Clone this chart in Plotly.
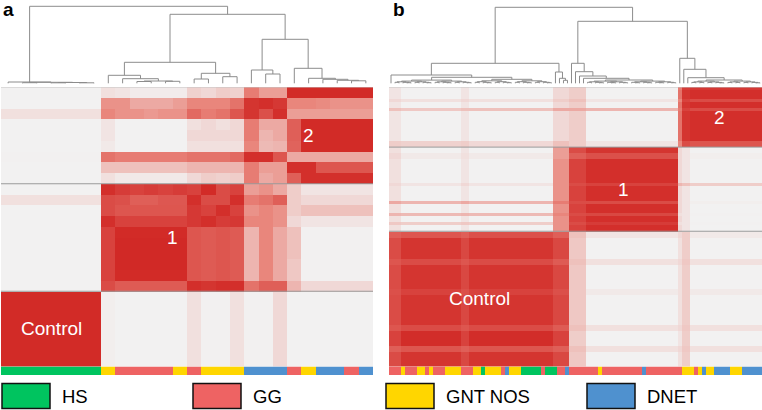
import numpy as np
import plotly.graph_objects as go

W, H = 762, 410
FONT = "Liberation Sans, Arial, Helvetica, sans-serif"

# ---------------- shared ----------------
categories = ["HS", "GG", "GNT NOS", "DNET"]
category_colors = ["#00C45F", "#EE6363", "#FFD600", "#4F91CF"]
heat_colorscale = [[0.0, "#F2F2F2"], [0.05, "#F2F0F0"], [0.5, "#E9867C"], [1.0, "#D02522"]]
line_grey = "#8c8c8c"

# ---------------- panel a data ----------------
a_col_groups = ["Control", "1", "2"]
a_col_group_sizes = [7, 10, 9]
a_row_groups = ["2", "1", "Control"]          # top to bottom
a_row_group_sizes = [9, 10, 7]
a_ann_codes = [0, 2, 1, 2, 1, 2, 3, 1, 2, 3, 1, 3]
a_ann_runs = [7, 1, 4, 1, 1, 3, 3, 1, 1, 2, 1, 1]

a_matrix = [
    [.03]*7 + [.12, .10, .07, .07, .07, .07] + [.18, .15, .20, .18] + [.55, .40, .40] + [.97]*6,
    [.03]*7 + [.45, .45, .35, .35, .35, .40] + [.50, .50, .50, .60] + [.92, .95, .90] + [.50, .50, .48, .45, .45, .45],
    [.12]*7 + [.50, .45, .45, .42, .45, .45] + [.65, .55, .60, .75] + [.92, .78, .95] + [.40]*6,
    [.02]*7 + [.10, .03, .03, .03, .03, .03] + [.12, .15, .12, .15] + [.55, .35, .35] + [.70] + [.97]*5,
    [.02]*7 + [.10, .03, .03, .03, .03, .03] + [.15, .15, .15, .15] + [.55, .30, .35] + [.70] + [.97]*5,
    [.02]*7 + [.08, .03, .03, .03, .03, .03] + [.12, .12, .12, .12] + [.50, .28, .30] + [.68] + [.97]*5,
    [.04]*7 + [.60, .55, .55, .55, .55, .55] + [.60, .60, .60, .65] + [.95, .95, .75] + [.35]*6,
    [.03]*7 + [.25, .25, .25, .25, .25, .25] + [.30, .30, .30, .30] + [.55, .40, .40] + [.95, .95, .75, .75, .75, .75],
    [.02]*7 + [.12, .08, .08, .08, .08, .08] + [.15, .20, .18, .20] + [.55, .35, .40] + [.70] + [.95]*5,
    [.03]*7 + [.95, .88, .85, .88, .85, .88] + [.85, .97, .80, .85] + [.40, .45, .35] + [.20] + [.10]*5,
    [.12]*7 + [.80, .78, .70, .70, .74, .74] + [.95, .80, .80, .95] + [.55, .60, .70] + [.20] + [.15]*5,
    [.03]*7 + [.80, .75, .75, .75, .75, .75] + [.90, .85, .95, .85] + [.45, .50, .45] + [.20] + [.25]*5,
    [.03]*7 + [.95, .85, .85, .85, .85, .85] + [.90, .95, .88, .90] + [.50, .50, .45] + [.15] + [.10]*5,
    [.03]*7 + [.85, .97, .97, .97, .97, .97] + [.75, .72, .75, .72] + [.30, .50, .35] + [.25] + [.04]*5,
    [.03]*7 + [.85, .98, .98, .98, .98, .98] + [.75, .72, .75, .72] + [.30, .50, .35] + [.25] + [.04]*5,
    [.03]*7 + [.85, .98, .98, .98, .98, .98] + [.75, .72, .75, .72] + [.30, .50, .35] + [.25] + [.04]*5,
    [.03]*7 + [.85, .98, .98, .98, .98, .98] + [.75, .72, .75, .72] + [.30, .50, .35] + [.22] + [.04]*5,
    [.03]*7 + [.85, .97, .97, .97, .97, .97] + [.75, .72, .75, .72] + [.30, .50, .35] + [.22] + [.04]*5,
    [.03]*7 + [.80, .72, .72, .72, .72, .72] + [.95, .92, .95, .95] + [.60, .70, .70] + [.30] + [.15]*5,
    [.97]*7 + [.06, .03, .03, .03, .03, .03] + [.12, .04, .04, .12] + [.04, .04, .15] + [.03] + [.03]*5,
    [.97]*7 + [.06, .03, .03, .03, .03, .03] + [.12, .04, .04, .12] + [.04, .04, .15] + [.03] + [.03]*5,
    [.97]*7 + [.06, .03, .03, .03, .03, .03] + [.12, .04, .04, .12] + [.04, .04, .15] + [.03] + [.03]*5,
    [.97]*7 + [.06, .03, .03, .03, .03, .03] + [.12, .04, .04, .12] + [.04, .04, .15] + [.03] + [.03]*5,
    [.97]*7 + [.06, .03, .03, .03, .03, .03] + [.12, .04, .04, .12] + [.04, .04, .15] + [.03] + [.03]*5,
    [.97]*7 + [.06, .03, .03, .03, .03, .03] + [.12, .04, .04, .12] + [.04, .04, .15] + [.03] + [.03]*5,
    [.97]*7 + [.06, .03, .03, .03, .03, .03] + [.12, .04, .04, .12] + [.04, .04, .15] + [.03] + [.03]*5,
]

# dendrogram a: [height, left, right]; leaves are column indices
a_tree = [77,
          [1.3, 0, [1.0, [0.6, 1, 2], [0.8, [0.5, 3, 4], [0.5, 5, 6]]]],
          [69,
           [21, [8, 7, [4.6, 8, [2.3, [1.8, 9, 10], [2.0, 11, 12]]]],
                [10, [4.3, 13, 14], [6.6, 15, 16]]],
           [44, [13.3, 17, [9.3, 18, 19]],
                [15, 20, [5, 21, [4, 22, [3, 23, [2.5, 24, 25]]]]]]]]

# ---------------- panel b data ----------------
b_col_groups = ["Control", "1", "2"]
b_col_group_sizes = [45, 27, 21]
b_row_groups = ["2", "1", "Control"]
b_row_group_sizes = [20, 28, 45]
b_ann_codes = [1, 2, 1, 2, 1, 2, 1, 2, 1, 2, 0, 2, 1, 3, 2, 0, 1, 0, 1, 3,
               1, 2, 1, 3, 1, 2, 1, 2, 3, 2, 3, 2, 3]
b_ann_runs = [3, 1, 3, 2, 1, 1, 3, 4, 3, 2, 1, 4, 1, 1, 3, 5, 1, 3, 2, 1,
              7, 1, 10, 1, 9, 3, 1, 1, 1, 2, 4, 3, 5]

b_col_seg_sizes = [3, 15, 2, 21, 4, 4, 23, 1, 2, 18]
b_row_seg_sizes = [1, 3, 1, 2, 1, 10, 2,
                   2, 2, 8, 1, 5, 1, 3, 1, 2, 1, 2,
                   2, 7, 2, 8, 2, 10, 2, 5, 2, 5]
b_seg_values = [
    [0.10, 0.04, 0.10, 0.04, 0.15, 0.20, 0.04, 0.55, 0.88, 0.90],
    [0.10, 0.03, 0.10, 0.03, 0.15, 0.20, 0.03, 0.60, 0.92, 0.95],
    [0.15, 0.12, 0.15, 0.12, 0.20, 0.25, 0.10, 0.50, 0.85, 0.80],
    [0.10, 0.03, 0.10, 0.03, 0.15, 0.20, 0.03, 0.60, 0.92, 0.95],
    [0.25, 0.22, 0.25, 0.25, 0.35, 0.35, 0.30, 0.55, 0.85, 0.80],
    [0.10, 0.03, 0.10, 0.03, 0.15, 0.20, 0.03, 0.60, 0.92, 0.95],
    [0.20, 0.18, 0.20, 0.15, 0.25, 0.20, 0.10, 0.50, 0.80, 0.75],
    [0.12, 0.03, 0.10, 0.03, 0.40, 0.80, 0.92, 0.15, 0.10, 0.03],
    [0.15, 0.08, 0.12, 0.08, 0.40, 0.70, 0.78, 0.15, 0.10, 0.06],
    [0.12, 0.03, 0.10, 0.03, 0.45, 0.85, 0.95, 0.15, 0.10, 0.03],
    [0.15, 0.10, 0.15, 0.10, 0.45, 0.80, 0.85, 0.30, 0.25, 0.20],
    [0.12, 0.03, 0.10, 0.03, 0.45, 0.85, 0.95, 0.15, 0.10, 0.03],
    [0.35, 0.30, 0.35, 0.30, 0.55, 0.80, 0.80, 0.15, 0.10, 0.06],
    [0.12, 0.03, 0.10, 0.03, 0.45, 0.85, 0.95, 0.15, 0.10, 0.03],
    [0.30, 0.28, 0.30, 0.28, 0.50, 0.80, 0.82, 0.12, 0.10, 0.05],
    [0.12, 0.03, 0.10, 0.03, 0.45, 0.85, 0.95, 0.15, 0.10, 0.03],
    [0.22, 0.20, 0.22, 0.20, 0.45, 0.80, 0.88, 0.12, 0.10, 0.05],
    [0.12, 0.03, 0.10, 0.03, 0.45, 0.85, 0.95, 0.15, 0.10, 0.03],
    [0.70, 0.75, 0.70, 0.78, 0.70, 0.25, 0.10, 0.15, 0.20, 0.08],
    [0.80, 0.92, 0.82, 0.92, 0.82, 0.22, 0.03, 0.12, 0.20, 0.03],
    [0.75, 0.80, 0.75, 0.80, 0.72, 0.25, 0.12, 0.15, 0.22, 0.12],
    [0.80, 0.92, 0.82, 0.92, 0.82, 0.22, 0.03, 0.12, 0.20, 0.03],
    [0.78, 0.85, 0.78, 0.85, 0.78, 0.22, 0.08, 0.12, 0.20, 0.08],
    [0.80, 0.92, 0.82, 0.92, 0.82, 0.22, 0.03, 0.12, 0.20, 0.03],
    [0.75, 0.80, 0.75, 0.80, 0.72, 0.25, 0.12, 0.15, 0.22, 0.12],
    [0.85, 0.96, 0.85, 0.96, 0.85, 0.20, 0.03, 0.10, 0.20, 0.03],
    [0.70, 0.75, 0.70, 0.75, 0.70, 0.25, 0.12, 0.15, 0.22, 0.12],
    [0.80, 0.92, 0.82, 0.92, 0.82, 0.22, 0.03, 0.12, 0.20, 0.03],
]

# dendrogram b merge heights
b_root_height = 76
b_left_height = 20
b_right_height = 62
b_ctrl_heights = [8.3, 6.0]
b_ctrl_left_levels = [3.2, 2.2, 1.5, 1.0, 0.6]
b_ctrl_right_levels = [4.0, 2.5, 1.6, 1.0, 0.6]
b_stripe_heights = [11.3, 5.0, 3.0]
b_c1_chain_heights = [20, 11.6, 7.3, 5.0]
b_c1_rest_levels = [3.3, 2.2, 1.5, 1.0, 0.6]
b_c2_chain_heights = [25, 14, 5.6]
b_c2_rest_levels = [3.3, 2.2, 1.4, 0.9, 0.5]


# ---------------- helpers ----------------
def balanced(leaves, levels):
    if len(leaves) == 1:
        return leaves[0]
    h = levels[0] if levels else 0.3
    mid = len(leaves) // 2
    rest = levels[1:] if len(levels) > 1 else [h * 0.6]
    return [h, balanced(leaves[:mid], rest), balanced(leaves[mid:], rest)]


def chain(items, heights):
    node = items[-1]
    for it, h in zip(reversed(items[:-1]), reversed(heights)):
        node = [h, it, node]
    return node


def dendro_segments(tree):
    xs, ys = [], []

    def walk(node):
        if not isinstance(node, list):
            return float(node), 0.0
        h, l, r = node
        lx, lh = walk(l)
        rx, rh = walk(r)
        xs.extend([lx, lx, rx, rx, None])
        ys.extend([lh, h, h, rh, None])
        return (lx + rx) / 2, h

    walk(tree)
    return xs, ys


def expand_runs(codes, runs):
    return list(np.repeat(codes, runs))


# build b tree
nb = sum(b_col_group_sizes)
ctrl_leaves = list(range(0, 41))
stripe_leaves = list(range(41, 45))
c1_leaves = list(range(45, 72))
c2_leaves = list(range(72, nb))
b_ctrl = [b_ctrl_heights[0], ctrl_leaves[0],
          [b_ctrl_heights[1], balanced(ctrl_leaves[1:21], b_ctrl_left_levels),
           balanced(ctrl_leaves[21:], b_ctrl_right_levels)]]
b_stripe = chain(stripe_leaves, b_stripe_heights)
b_c1 = chain(c1_leaves[:4] + [balanced(c1_leaves[4:], b_c1_rest_levels)], b_c1_chain_heights)
b_c2 = chain(c2_leaves[:3] + [balanced(c2_leaves[3:], b_c2_rest_levels)], b_c2_chain_heights)
b_tree = [b_root_height, [b_left_height, b_ctrl, b_stripe], [b_right_height, b_c1, b_c2]]

b_matrix = np.repeat(np.repeat(np.array(b_seg_values), b_row_seg_sizes, axis=0),
                     b_col_seg_sizes, axis=1)

# ---------------- figure ----------------
def pxx(x):
    return x / W


def pyy(y):
    return 1 - y / H


fig = go.Figure()
panels = [
    dict(matrix=np.array(a_matrix), tree=a_tree, codes=a_ann_codes, runs=a_ann_runs,
         cg=a_col_groups, cgs=a_col_group_sizes, rg=a_row_groups, rgs=a_row_group_sizes,
         x0=1, x1=373, label="a", lx=1),
    dict(matrix=b_matrix, tree=b_tree, codes=b_ann_codes, runs=b_ann_runs,
         cg=b_col_groups, cgs=b_col_group_sizes, rg=b_row_groups, rgs=b_row_group_sizes,
         x0=389, x1=762, label="b", lx=391),
]

HEAT_TOP, HEAT_BOT, BAR_BOT = 87, 366.5, 375
DEND_BOT = 86
BASE = 83.3

n_cat = len(categories)
disc_scale = []
for i, c in enumerate(category_colors):
    disc_scale.append([i / n_cat, c])
    disc_scale.append([(i + 1) / n_cat, c])

annotations = []
shapes = []
layout_axes = {}
for p_i, p in enumerate(panels):
    n = p["matrix"].shape[0]
    k = p_i * 3
    names = [("x%d" % (k + j + 1) if k + j > 0 else "x", "y%d" % (k + j + 1) if k + j > 0 else "y")
             for j in range(3)]
    dom_x = [pxx(p["x0"]), pxx(p["x1"])]
    xr = [-0.5, n - 0.5]
    # heatmap
    fig.add_trace(go.Heatmap(z=p["matrix"], x=list(range(n)), y=list(range(n)),
                             colorscale=heat_colorscale, zmin=0, zmax=1, showscale=False,
                             xaxis=names[0][0], yaxis=names[0][1], hoverinfo="skip"))
    # dendrogram
    dx, dy = dendro_segments(p["tree"])
    fig.add_trace(go.Scatter(x=dx, y=dy, mode="lines", line=dict(color=line_grey, width=1),
                             xaxis=names[1][0], yaxis=names[1][1], hoverinfo="skip",
                             showlegend=False))
    # annotation bar
    ann = expand_runs(p["codes"], p["runs"])
    fig.add_trace(go.Heatmap(z=[ann], x=list(range(n)), y=[0], colorscale=disc_scale,
                             zmin=-0.5, zmax=n_cat - 0.5, showscale=False,
                             xaxis=names[2][0], yaxis=names[2][1], hoverinfo="skip"))
    doms_y = [[pyy(HEAT_BOT), pyy(HEAT_TOP)], [pyy(DEND_BOT), 1.0], [pyy(BAR_BOT), pyy(HEAT_BOT)]]
    yranges = [[n - 0.5, -0.5], [-(DEND_BOT - BASE), BASE], [-0.5, 0.5]]
    for j in range(3):
        xa = "xaxis" + (str(k + j + 1) if k + j > 0 else "")
        ya = "yaxis" + (str(k + j + 1) if k + j > 0 else "")
        layout_axes[xa] = dict(domain=dom_x, range=xr, visible=False, fixedrange=True,
                               anchor=names[j][1])
        layout_axes[ya] = dict(domain=doms_y[j], range=yranges[j], visible=False,
                               fixedrange=True, anchor=names[j][0])
    # thin border on top of the heatmap
    shapes.append(dict(type="line", xref=names[0][0], yref=names[0][1],
                       x0=-0.5, x1=n - 0.5, y0=-0.5, y1=-0.5,
                       line=dict(color="#c4c4c4", width=1)))
    # separator lines between row groups
    cum = np.cumsum(p["rgs"])[:-1]
    for c in cum:
        shapes.append(dict(type="line", xref=names[0][0], yref=names[0][1],
                           x0=-0.5, x1=n - 0.5, y0=c - 0.5, y1=c - 0.5,
                           line=dict(color="#9a9a9a", width=1)))
    # block labels
    col_starts = np.concatenate([[0], np.cumsum(p["cgs"])[:-1]])
    row_starts = np.concatenate([[0], np.cumsum(p["rgs"])[:-1]])
    for g, gs, st in zip(p["cg"], p["cgs"], col_starts):
        ri = p["rg"].index(g)
        cx = st + (gs - 1) / 2
        cy = row_starts[ri] + (p["rgs"][ri] - 1) / 2
        annotations.append(dict(x=cx, y=cy, xref=names[0][0], yref=names[0][1], text=g,
                                showarrow=False, font=dict(family=FONT, size=19, color="white")))
    # panel letter
    annotations.append(dict(x=pxx(p["lx"]), y=1.0 + 3 / H, xref="paper", yref="paper",
                            text="<b>%s</b>" % p["label"], showarrow=False, xanchor="left",
                            yanchor="top", font=dict(family=FONT, size=19, color="black")))

# legend
legend_box_x = [2, 193, 386, 587]
for i, (cat, col) in enumerate(zip(categories, category_colors)):
    bx = legend_box_x[i]
    shapes.append(dict(type="rect", xref="paper", yref="paper",
                       x0=pxx(bx), x1=pxx(bx + 48), y0=pyy(408.5), y1=pyy(383.5),
                       fillcolor=col, line=dict(color="#111111", width=1.5)))
    annotations.append(dict(x=pxx(bx + 58), y=pyy(396), xref="paper", yref="paper",
                            text=cat, showarrow=False, xanchor="left", yanchor="middle",
                            font=dict(family=FONT, size=18.5, color="black")))

fig.update_layout(width=W, height=H, margin=dict(l=0, r=0, t=0, b=0),
                  paper_bgcolor="white", plot_bgcolor="rgba(0,0,0,0)",
                  showlegend=False, annotations=annotations, shapes=shapes, **layout_axes)
fig.write_html("out.html", config={"displayModeBar": False},
               post_script="document.body.style.margin='0px';document.body.style.overflow='hidden';")
